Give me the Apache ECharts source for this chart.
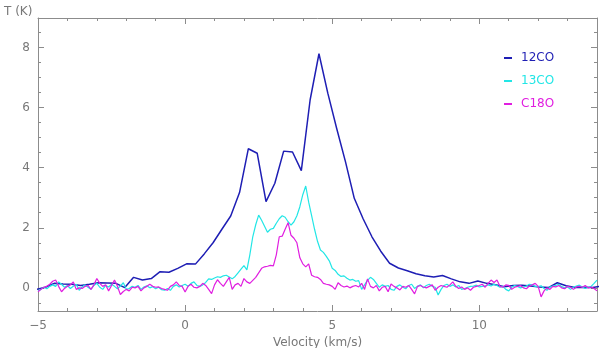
<!DOCTYPE html>
<html>
<head>
<meta charset="utf-8">
<script src="https://cdn.jsdelivr.net/npm/echarts@6/dist/echarts.min.js"></script>
<style>
  html, body { margin: 0; padding: 0; background: #fff; }
  #main { width: 600px; height: 348px; }
</style>
</head>
<body>
<div id="main"></div>
<script>
// spectra: velocity grid = start + i * channel width (km/s), T in K
var co12Start = -5.05, co12Step = 0.3;
var co12 = [
  -0.05, 0.02, 0.15, 0.13, 0.12, 0.08, 0.12, 0.17, 0.16, 0.15,
  0.01, 0.35, 0.26, 0.31, 0.54, 0.52, 0.65, 0.80, 0.79, 1.13,
  1.50, 1.95, 2.39, 3.17, 4.63, 4.48, 2.87, 3.48, 4.55, 4.52,
  3.90, 6.26, 7.79, 6.48, 5.31, 4.20, 2.98, 2.30, 1.70, 1.22,
  0.82, 0.66, 0.57, 0.47, 0.40, 0.36, 0.41, 0.30, 0.20, 0.15,
  0.23, 0.15, 0.10, 0.04, 0.08, 0.09, 0.06, 0.03, 0.01, 0.17,
  0.07, 0.01, 0.02, 0.01, 0.06
];

var fineStart = -5.0, fineStep = 0.1;
var co13 = [
  -0.10, -0.05, 0.02, -0.03, 0.05, 0.10, 0.05, 0.20, 0.12, 0.02,
  0.08, -0.02, 0.05, 0.12, -0.08, 0.03, 0.10, 0.02, -0.05, 0.08,
  0.15, 0.02, -0.05, 0.08, 0.03, 0.12, 0.05, -0.03, 0.06, 0.17,
  -0.05, -0.02, 0.05, 0.02, 0.08, -0.05, 0.03, 0.07, 0.00, 0.04,
  -0.03, 0.02, -0.06, -0.08, -0.02, -0.08, 0.05, 0.10, 0.03, 0.08,
  0.12, 0.05, 0.15, 0.20, 0.08, 0.05, 0.10, 0.18, 0.30, 0.28,
  0.33, 0.37, 0.35, 0.40, 0.42, 0.36, 0.30, 0.38, 0.50, 0.62,
  0.74, 0.60, 1.10, 1.70, 2.10, 2.42, 2.25, 2.05, 1.85, 1.95,
  1.98, 2.15, 2.30, 2.40, 2.35, 2.20, 2.09, 2.20, 2.40, 2.70,
  3.10, 3.39, 2.85, 2.40, 1.95, 1.55, 1.26, 1.18, 1.05, 0.90,
  0.65, 0.58, 0.45, 0.38, 0.40, 0.32, 0.26, 0.28, 0.22, 0.24,
  -0.05, 0.10, 0.25, 0.35, 0.28, 0.15, 0.02, 0.10, 0.05, 0.08,
  -0.05, -0.08, 0.05, 0.10, 0.02, -0.03, 0.08, 0.12, -0.02, 0.05,
  0.10, 0.00, 0.08, 0.12, 0.05, 0.02, -0.24, -0.05, 0.08, 0.12,
  0.05, 0.10, 0.03, 0.08, -0.05, -0.02, 0.02, 0.05, 0.06, 0.09,
  0.03, 0.05, 0.07, 0.10, 0.06, 0.12, 0.08, 0.02, 0.05, -0.05,
  -0.10, 0.02, 0.08, 0.05, 0.00, 0.03, 0.06, 0.12, 0.10, 0.05,
  0.04, 0.07, -0.02, -0.08, 0.03, 0.06, 0.08, 0.12, 0.04, 0.00,
  0.03, -0.05, 0.02, 0.06, 0.09, 0.03, -0.02, 0.02, 0.05, 0.15,
  0.26
];
var c18o = [
  -0.13, -0.05, 0.02, 0.05, 0.12, 0.22, 0.26, 0.05, -0.13, -0.02,
  0.05, 0.10, 0.20, -0.05, 0.00, -0.02, 0.05, 0.08, -0.05, 0.10,
  0.31, 0.15, 0.05, 0.10, -0.10, 0.08, 0.26, 0.05, -0.22, -0.12,
  -0.05, -0.10, 0.02, 0.00, 0.05, -0.10, 0.00, 0.05, 0.12, 0.05,
  0.02, 0.03, -0.02, -0.05, -0.08, 0.05, 0.10, 0.20, 0.08, 0.05,
  -0.14, 0.05, 0.12, 0.02, 0.00, 0.05, 0.15, 0.08, -0.05, -0.19,
  0.10, 0.27, 0.15, 0.05, 0.20, 0.35, -0.05, 0.10, 0.15, 0.05,
  0.31, 0.20, 0.15, 0.25, 0.35, 0.50, 0.65, 0.70, 0.72, 0.75,
  0.73, 1.10, 1.70, 1.72, 1.95, 2.17, 1.75, 1.65, 1.50, 1.00,
  0.80, 0.70, 0.80, 0.42, 0.37, 0.35, 0.28, 0.15, 0.12, 0.10,
  0.05, -0.05, 0.17, 0.08, 0.03, 0.06, 0.00, 0.05, 0.08, 0.03,
  0.15, -0.05, 0.30, 0.05, 0.00, 0.08, -0.10, 0.02, 0.05, -0.13,
  0.13, 0.05, 0.00, -0.07, 0.05, 0.02, 0.08, -0.05, -0.20, 0.05,
  0.08, 0.03, 0.00, 0.05, 0.10, -0.08, 0.02, 0.08, 0.05, 0.02,
  0.10, 0.20, 0.05, -0.02, 0.03, -0.05, 0.00, -0.08, 0.02, 0.05,
  0.08, 0.12, 0.02, 0.15, 0.26, 0.18, 0.26, 0.05, 0.02, 0.10,
  0.08, -0.05, 0.02, 0.05, 0.08, 0.00, -0.03, 0.06, 0.10, 0.15,
  0.05, -0.30, -0.10, 0.00, -0.05, 0.05, 0.03, 0.08, 0.00, -0.03,
  0.05, 0.02, -0.05, 0.03, 0.05, 0.02, 0.08, 0.00, 0.03, -0.02,
  -0.10
];

var xMajor = [-5, 0, 5, 10];
var xMinor = [-4, -3, -2, -1, 1, 2, 3, 4, 6, 7, 8, 9, 11, 12, 13];
var yMajor = [0, 2, 4, 6, 8];
var yMinor = [-0.5, 0.5, 1, 1.5, 2.5, 3, 3.5, 4.5, 5, 5.5, 6.5, 7, 7.5, 8.5];

var names = ['12CO', '13CO', 'C18O'];
var colors = ['#1e1eb4', '#22e6e6', '#e01ee0'];

function toPairs(start, step, vals) {
    var out = [];
    for (var i = 0; i < vals.length; i++) {
        out.push([+(start + i * step).toFixed(3), vals[i]]);
    }
    return out;
}

var frameColor = '#8c8c8c';
var textColor = '#787878';
var font = 'DejaVu Sans';

function xAx(pos, ticks, len, withLine, withLabel) {
    return {
        type: 'value', position: pos, min: -5, max: 14,
        axisLine: { show: withLine, onZero: false, lineStyle: { color: frameColor, width: 1 } },
        axisTick: { show: true, inside: true, length: len, customValues: ticks,
            lineStyle: { color: frameColor } },
        axisLabel: withLabel ? {
            customValues: ticks, margin: 9, color: textColor, fontFamily: font, fontSize: 12,
            formatter: function (v) { return String(v).replace('-', '\u2212'); }
        } : { show: false },
        splitLine: { show: false }
    };
}
function yAx(pos, ticks, len, withLine, withLabel) {
    return {
        type: 'value', position: pos, min: -0.77, max: 8.98,
        axisLine: { show: withLine, onZero: false, lineStyle: { color: frameColor, width: 1 } },
        axisTick: { show: true, inside: true, length: len, customValues: ticks,
            lineStyle: { color: frameColor } },
        axisLabel: withLabel ? {
            customValues: ticks, margin: 8, color: textColor, fontFamily: font, fontSize: 12
        } : { show: false },
        splitLine: { show: false }
    };
}

var bottomMain = xAx('bottom', xMajor, 6, true, true);
bottomMain.name = 'Velocity (km/s)';
bottomMain.nameLocation = 'middle';
bottomMain.nameGap = 19;
bottomMain.nameTextStyle = { color: textColor, fontFamily: font, fontSize: 12 };

var chart = echarts.init(document.getElementById('main'));
chart.setOption({
    animation: false,
    backgroundColor: '#fff',
    title: {
        text: 'T (K)', left: 4, top: 6, padding: 0,
        textStyle: { color: textColor, fontFamily: font, fontSize: 12, fontWeight: 'normal' }
    },
    legend: {
        orient: 'vertical', left: 504, top: 52, padding: 0,
        itemWidth: 8, itemHeight: 2, itemGap: 11, icon: 'rect',
        textStyle: { fontFamily: font, fontSize: 12, padding: [0, 0, 0, 4] },
        data: names.map(function (n, i) {
            return { name: n, textStyle: { color: colors[i] } };
        })
    },
    grid: { left: 38, right: 3, top: 18, bottom: 37, outerBoundsMode: 'none', containLabel: false },
    xAxis: [
        bottomMain,
        xAx('bottom', xMinor, 3, false, false),
        xAx('top', xMajor, 6, true, false),
        xAx('top', xMinor, 3, false, false)
    ],
    yAxis: [
        yAx('left', yMajor, 6, true, true),
        yAx('left', yMinor, 3, false, false),
        yAx('right', yMajor, 6, true, false),
        yAx('right', yMinor, 3, false, false)
    ],
    series: [
        { name: names[0], type: 'line', showSymbol: false, color: colors[0],
          lineStyle: { width: 1.5 }, data: toPairs(co12Start, co12Step, co12) },
        { name: names[1], type: 'line', showSymbol: false, color: colors[1],
          lineStyle: { width: 1.2 }, data: toPairs(fineStart, fineStep, co13) },
        { name: names[2], type: 'line', showSymbol: false, color: colors[2],
          lineStyle: { width: 1.2 }, data: toPairs(fineStart, fineStep, c18o) }
    ]
});
</script>
</body>
</html>
